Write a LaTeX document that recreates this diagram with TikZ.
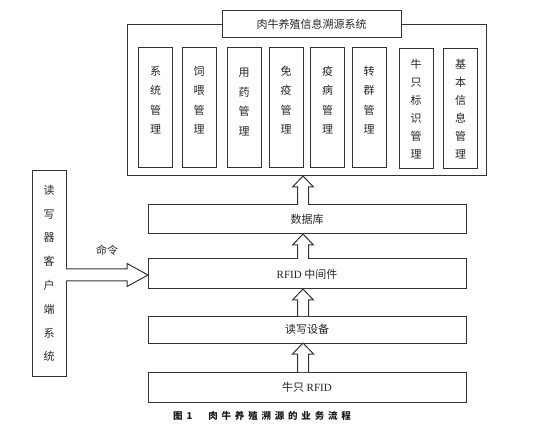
\documentclass[tikz,border=0pt]{standalone}
\usepackage{fontspec}
\setmainfont{Liberation Serif}
\newfontfamily\cjk{Noto Sans CJK SC}
\usetikzlibrary{calc}
\newcommand{\shaftw}{5.5pt}
\newcommand{\headw}{10.5pt}
\newcommand{\headlen}{11pt}
\tikzstyle{box}=[draw=black!80, line width=1pt, inner sep=0, outer sep=0, fill=white, text=black!85]
\tikzstyle{layer}=[box, minimum width=318pt, minimum height=29pt, font=\cjk\fontsize{11}{13}\selectfont]
\tikzstyle{module}=[box, minimum width=34pt, minimum height=120pt]
\tikzstyle{vtext}=[align=center, inner sep=0, text=black!85, font=\cjk\fontsize{11}{19.5}\selectfont]
\tikzstyle{hollow}=[draw=black!80, line width=1pt, fill=white, line join=miter]
% hollow block arrows between two points
\newcommand{\uparrowbetween}[2]{%
  \draw[hollow] let \p1=(#1), \p2=(#2) in
    (\x1-\shaftw,\y1) -- (\x1-\shaftw,\y2-\headlen) -- (\x1-\headw,\y2-\headlen) -- (\x1,\y2)
    -- (\x1+\headw,\y2-\headlen) -- (\x1+\shaftw,\y2-\headlen) -- (\x1+\shaftw,\y1);}
\newcommand{\rightarrowbetween}[2]{%
  \draw[hollow] let \p1=(#1), \p2=(#2) in
    (\x1,\y1+6pt) -- (\x2-21pt,\y1+6pt) -- (\x2-21pt,\y1+11.5pt) -- (\x2,\y1)
    -- (\x2-21pt,\y1-11.5pt) -- (\x2-21pt,\y1-6pt) -- (\x1,\y1-6pt);}
\begin{document}
\begin{tikzpicture}[x=1pt, y=-1pt]
  \useasboundingbox (0,0) rectangle (546,430);
  % traceability system with its modules
  \node[box, minimum width=359pt, minimum height=151pt] (system) at (306.5,100.5) {};
  \node[box, minimum width=179pt, minimum height=27pt, font=\cjk\fontsize{11}{13}\selectfont] (title) at (311.5,24.5) {肉牛养殖信息溯源系统};
  \node[module] (m1) at (155.5,108) {};
  \node[module] (m2) at (199,108) {};
  \node[module] (m3) at (244,108) {};
  \node[module] (m4) at (286,108) {};
  \node[module] (m5) at (327.5,108) {};
  \node[module] (m6) at (369,108) {};
  \node[module] (m7) at (416,109) {};
  \node[module] (m8) at (460.5,109) {};
  \node[vtext, yshift=8pt] at (m1) {系\\统\\管\\理};
  \node[vtext, yshift=8pt] at (m2) {饲\\喂\\管\\理};
  \node[vtext, yshift=6pt] at (m3) {用\\药\\管\\理};
  \node[vtext, yshift=8pt] at (m4) {免\\疫\\管\\理};
  \node[vtext, yshift=8pt] at (m5) {疫\\病\\管\\理};
  \node[vtext, yshift=8pt] at (m6) {转\\群\\管\\理};
  \node[vtext, font=\cjk\fontsize{11}{18}\selectfont] at (m7) {牛\\只\\标\\识\\管\\理};
  \node[vtext, font=\cjk\fontsize{11}{18}\selectfont] at (m8) {基\\本\\信\\息\\管\\理};
  % layers
  \node[layer] (db) at (307,219.5) {数据库};
  \node[layer, minimum height=30pt] (mid) at (307,274) {{\rmfamily RFID} 中间件};
  \node[layer, minimum height=27pt] (reader) at (307,329.5) {读写设备};
  \node[layer, minimum height=30pt] (tag) at (307,387) {牛只 {\rmfamily RFID}};
  % reader client
  \node[box, minimum width=34pt, minimum height=205pt] (client) at (49,273.5) {};
  \node[vtext, font=\cjk\fontsize{11}{23.8}\selectfont] at (client) {读\\写\\器\\客\\户\\端\\系\\统};
  % arrows
  \coordinate (spine) at (303,0);
  \coordinate (cmd) at (66,275);
  \uparrowbetween{spine |- tag.north}{spine |- reader.south}
  \uparrowbetween{spine |- reader.north}{spine |- mid.south}
  \uparrowbetween{spine |- mid.north}{spine |- db.south}
  \uparrowbetween{spine |- db.north}{spine |- system.south}
  \rightarrowbetween{client.east |- cmd}{mid.west |- cmd}
  \node[text=black!85, font=\cjk\fontsize{11}{13}\selectfont] (cmdlabel) at (107,250) {命令};
  \node[text=black!90, font=\cjk\bfseries\fontsize{9.5}{11}\selectfont] (caption) at (262,416)
    {图\hspace{4pt}1\hspace{16pt}{\addfontfeature{LetterSpace=40}肉牛养殖溯源的业务流程}};
\end{tikzpicture}
\end{document}
